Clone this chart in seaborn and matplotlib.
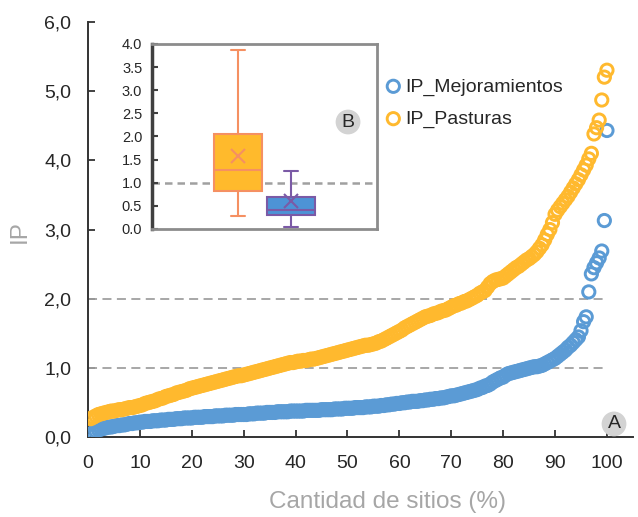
import numpy as np
import pandas as pd
import matplotlib
matplotlib.use("Agg")
import matplotlib.pyplot as plt
import seaborn as sns

# IP per site, sorted ascending (200 sites -> 0.5 % each)
ip_mejoramientos = [
    0.04, 0.07, 0.09, 0.11, 0.12, 0.13, 0.14, 0.15, 0.15, 0.16,
    0.17, 0.17, 0.18, 0.18, 0.19, 0.20, 0.20, 0.21, 0.21, 0.22,
    0.22, 0.23, 0.23, 0.23, 0.24, 0.24, 0.24, 0.25, 0.25, 0.25,
    0.26, 0.26, 0.26, 0.27, 0.27, 0.27, 0.28, 0.28, 0.28, 0.28,
    0.29, 0.29, 0.29, 0.29, 0.30, 0.30, 0.30, 0.30, 0.31, 0.31,
    0.31, 0.31, 0.32, 0.32, 0.32, 0.32, 0.33, 0.33, 0.33, 0.33,
    0.33, 0.34, 0.34, 0.34, 0.35, 0.35, 0.35, 0.35, 0.36, 0.36,
    0.36, 0.36, 0.37, 0.37, 0.37, 0.37, 0.37, 0.38, 0.38, 0.38,
    0.38, 0.38, 0.38, 0.39, 0.39, 0.39, 0.39, 0.39, 0.39, 0.40,
    0.40, 0.40, 0.40, 0.40, 0.41, 0.41, 0.41, 0.41, 0.42, 0.42,
    0.42, 0.42, 0.43, 0.43, 0.43, 0.43, 0.44, 0.44, 0.44, 0.45,
    0.45, 0.45, 0.46, 0.46, 0.47, 0.47, 0.48, 0.48, 0.49, 0.49,
    0.50, 0.50, 0.51, 0.51, 0.52, 0.52, 0.52, 0.53, 0.53, 0.54,
    0.54, 0.55, 0.55, 0.56, 0.56, 0.57, 0.57, 0.58, 0.59, 0.60,
    0.60, 0.61, 0.62, 0.63, 0.64, 0.65, 0.66, 0.67, 0.68, 0.69,
    0.71, 0.72, 0.74, 0.75, 0.77, 0.80, 0.82, 0.84, 0.86, 0.87,
    0.90, 0.92, 0.93, 0.94, 0.95, 0.96, 0.97, 0.98, 0.99, 1.00,
    1.01, 1.02, 1.02, 1.03, 1.04, 1.06, 1.08, 1.10, 1.12, 1.14,
    1.17, 1.20, 1.23, 1.26, 1.30, 1.33, 1.37, 1.41, 1.45, 1.54,
    1.67, 1.74, 2.10, 2.36, 2.45, 2.52, 2.59, 2.69, 3.13, 4.43,
]
ip_pasturas = [
    0.27, 0.29, 0.31, 0.33, 0.34, 0.35, 0.36, 0.37, 0.38, 0.38,
    0.39, 0.40, 0.40, 0.41, 0.42, 0.43, 0.43, 0.44, 0.45, 0.46,
    0.47, 0.49, 0.50, 0.51, 0.52, 0.53, 0.55, 0.56, 0.57, 0.59,
    0.60, 0.61, 0.62, 0.64, 0.65, 0.66, 0.67, 0.68, 0.70, 0.71,
    0.72, 0.73, 0.74, 0.75, 0.76, 0.77, 0.78, 0.79, 0.80, 0.81,
    0.82, 0.83, 0.84, 0.85, 0.86, 0.87, 0.88, 0.89, 0.89, 0.90,
    0.91, 0.92, 0.93, 0.94, 0.95, 0.96, 0.97, 0.98, 0.99, 1.00,
    1.01, 1.02, 1.03, 1.04, 1.05, 1.06, 1.07, 1.08, 1.08, 1.09,
    1.10, 1.10, 1.11, 1.11, 1.12, 1.13, 1.13, 1.14, 1.15, 1.16,
    1.17, 1.18, 1.19, 1.20, 1.21, 1.22, 1.23, 1.24, 1.25, 1.26,
    1.27, 1.28, 1.29, 1.30, 1.31, 1.32, 1.33, 1.33, 1.34, 1.35,
    1.36, 1.38, 1.39, 1.41, 1.43, 1.45, 1.47, 1.49, 1.51, 1.53,
    1.55, 1.58, 1.60, 1.62, 1.64, 1.66, 1.68, 1.70, 1.72, 1.74,
    1.75, 1.76, 1.78, 1.79, 1.80, 1.82, 1.83, 1.84, 1.86, 1.88,
    1.90, 1.91, 1.93, 1.94, 1.96, 1.97, 1.99, 2.01, 2.03, 2.05,
    2.08, 2.10, 2.12, 2.17, 2.22, 2.25, 2.27, 2.28, 2.29, 2.30,
    2.33, 2.36, 2.39, 2.42, 2.45, 2.47, 2.50, 2.53, 2.56, 2.58,
    2.61, 2.64, 2.68, 2.73, 2.78, 2.85, 2.93, 3.00, 3.10, 3.22,
    3.28, 3.33, 3.38, 3.43, 3.48, 3.54, 3.60, 3.66, 3.72, 3.79,
    3.86, 3.93, 4.02, 4.10, 4.38, 4.47, 4.58, 4.87, 5.20, 5.30,
]
series_names = ["IP_Mejoramientos", "IP_Pasturas"]
series_colors = {"IP_Mejoramientos": "#5B9BD5", "IP_Pasturas": "#FFB92E"}
box_fill = {"IP_Mejoramientos": "#4D93D6", "IP_Pasturas": "#FFBA2C"}
box_edges = {"IP_Mejoramientos": "#7B5AA6", "IP_Pasturas": "#F59062"}
x_ticks = [0, 10, 20, 30, 40, 50, 60, 70, 80, 90, 100]
y_ticks = [0, 1, 2, 3, 4, 5, 6]
inset_ticks = [0.0, 0.5, 1.0, 1.5, 2.0, 2.5, 3.0, 3.5, 4.0]
ref_levels = [1.0, 2.0]

sns.set_style("ticks")
plt.rcParams["font.family"] = ["Liberation Sans", "DejaVu Sans"]

n = len(ip_pasturas)
pct = np.arange(1, n + 1) * 100.0 / n
df = pd.DataFrame({
    "pct": np.concatenate([pct, pct]),
    "IP": ip_mejoramientos + ip_pasturas,
    "serie": [series_names[0]] * n + [series_names[1]] * n,
})
df["grupo"] = ""

fig = plt.figure(figsize=(6.38, 5.17), dpi=100)
ax = fig.add_axes([0.138, 0.154, 0.854, 0.804])

for name in series_names:
    sub = df[df["serie"] == name]
    sns.scatterplot(data=sub, x="pct", y="IP", ax=ax, s=78, marker="o",
                    facecolor="none", edgecolor=series_colors[name],
                    linewidth=2.1, label=name, zorder=3)

ax.hlines(ref_levels, 0, 99.2, colors="#A0A0A0", linestyles=(0, (5, 3)),
          linewidth=1.3, zorder=1)

ax.set_xlim(0, 105)
ax.set_ylim(0, 6)
ax.set_xticks(x_ticks)
ax.set_yticks(y_ticks)
ax.set_yticklabels([f"{v:.1f}".replace(".", ",") for v in y_ticks])
ax.tick_params(direction="in", length=5, width=1.3, color="#333333")
ax.tick_params(axis="x", pad=13, labelsize=14)
ax.tick_params(axis="y", pad=12, labelsize=14)
sns.despine(ax=ax)
for sp in ("left", "bottom"):
    ax.spines[sp].set_linewidth(1.4)
    ax.spines[sp].set_color("#333333")

ax.set_xlabel("Cantidad de sitios (%)", fontsize=17.5, color="#A6A6A6")
ax.set_ylabel("IP", fontsize=17.5, color="#A6A6A6")
ax.xaxis.set_label_coords(0.55, -0.128)
ax.yaxis.set_label_coords(-0.105, 0.495)

ax.legend(loc="center left", bbox_to_anchor=(0.586, 0.801),
          bbox_transform=fig.transFigure, frameon=False,
          handletextpad=0.1, handlelength=1.0, borderpad=0,
          labelspacing=0.75, prop={"size": 14})

# inset: box plots
ax_in = fig.add_axes([0.2382, 0.5571, 0.3527, 0.3578])
sns.boxplot(data=df, x="grupo", y="IP", hue="serie",
            hue_order=["IP_Pasturas", "IP_Mejoramientos"],
            palette=box_fill, saturation=1, width=0.47, gap=0.1,
            showfliers=False, showmeans=True, linewidth=1.5, legend=False,
            ax=ax_in,
            meanprops={"marker": "x", "markersize": 10, "markeredgewidth": 1.5})
for cont, name in zip(ax_in.containers, ["IP_Pasturas", "IP_Mejoramientos"]):
    ec = box_edges[name]
    for b in cont.boxes:
        b.set_edgecolor(ec)
    for ln in list(cont.whiskers) + list(cont.caps) + list(cont.medians) + list(cont.means):
        ln.set_color(ec)
        ln.set_markeredgecolor(ec)
    # narrower whisker caps, like the original
    for cap in cont.caps:
        xs = np.asarray(cap.get_xdata(), dtype=float)
        mid, half = xs.mean(), (xs.max() - xs.min()) / 2 * 0.6
        cap.set_xdata([mid - half, mid + half])

ax_in.axhline(1.0, color="#A0A0A0", linestyle=(0, (3, 2)), linewidth=1.8, zorder=0)
ax_in.set_xlim(-0.5, 0.5)
ax_in.set_ylim(0, 4)
ax_in.set_yticks(inset_ticks)
ax_in.set_yticklabels([f"{v:.1f}" for v in inset_ticks])
ax_in.set_xticks([])
ax_in.set_xlabel("")
ax_in.set_ylabel("")
ax_in.tick_params(axis="y", direction="in", length=4, width=1.5, pad=7,
                  labelsize=10.5, color="#404040")
for sp in ax_in.spines.values():
    sp.set_visible(True)
    sp.set_color("#8C8C8C")
    sp.set_linewidth(2)
ax_in.spines["left"].set_color("#404040")
ax_in.spines["left"].set_linewidth(2.5)

circ = dict(boxstyle="circle,pad=0.2", fc="#D3D3D3", ec="none")
fig.text(0.5455, 0.764, "B", fontsize=14, ha="center", va="center", bbox=circ)
fig.text(0.9624, 0.18, "A", fontsize=14, ha="center", va="center", bbox=circ)

fig.savefig("out.png", dpi=100)
